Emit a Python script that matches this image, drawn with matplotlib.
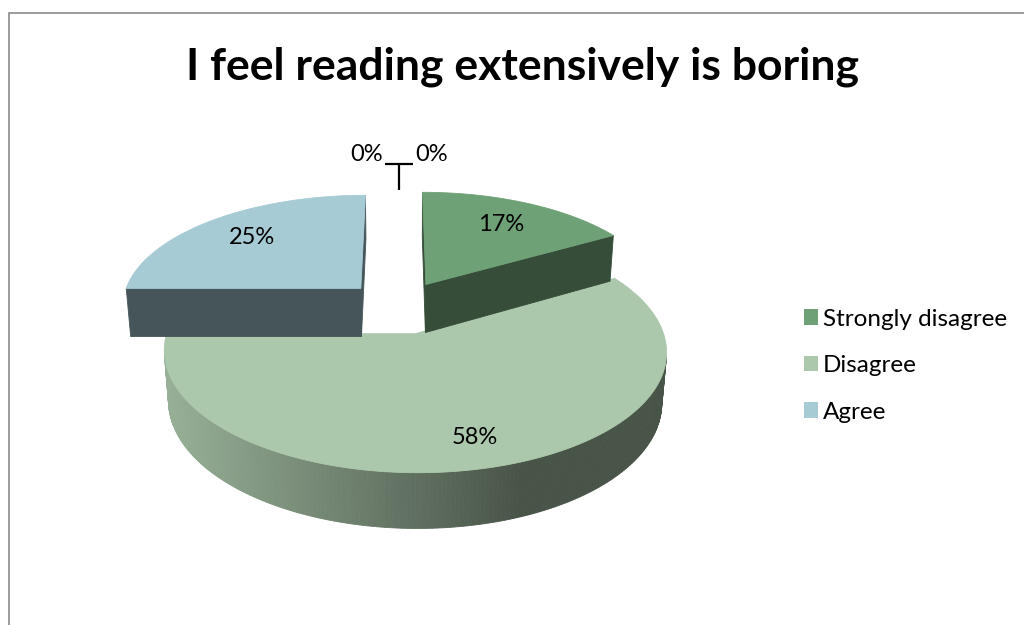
import numpy as np
import matplotlib
matplotlib.use("Agg")
import matplotlib.pyplot as plt
from matplotlib.patches import Polygon, Rectangle, Patch
from matplotlib.colors import to_rgb

title = "I feel reading extensively is boring"
categories = ["Strongly disagree", "Disagree", "Agree", "Strongly agree", "Undecided"]
counts = [2, 7, 3, 0, 0]

top_colors = ["#6fa176", "#acc8ac", "#a6cbd4", "#8fb7c4", "#7e9fb0"]
cut_shade = [0.48, 0.45, 0.42, 0.45, 0.45]
explode = [0.23, 0.25, 0.23, 0.23, 0.23]
label_r = [0.72, 0.8, 0.72, 1.0, 1.0]
draw_order = [1, 2, 0]

plt.rcParams["font.family"] = ["Lato", "DejaVu Sans"]

# simple perspective camera looking down on the pie
ELEV = np.radians(27.5)
DIST = 6.3
SCALE = 1512.0
CX, CY = 399.0, 306.0
THICK = 0.234
CAM = np.array([0.0, -DIST * np.cos(ELEV), DIST * np.sin(ELEV)])


def proj(x, y, z):
    x = np.asarray(x, float)
    y = np.asarray(y, float)
    z = np.asarray(z, float)
    depth = DIST + y * np.cos(ELEV) - z * np.sin(ELEV)
    up = y * np.sin(ELEV) + z * np.cos(ELEV)
    return CX + SCALE * x / depth, CY - SCALE * up / depth


def shade(col, f):
    return tuple(min(1, c * f) for c in to_rgb(col))


def mix(c1, c2, t):
    return tuple(a + (b - a) * t for a, b in zip(c1, c2))


def visible(normal, point):
    return np.dot(normal, CAM - point) > 0


fig = plt.figure(figsize=(10.24, 6.25), dpi=100)
ax = fig.add_axes([0, 0, 1, 1])
ax.set_xlim(0, 1024)
ax.set_ylim(625, 0)
ax.axis("off")

total = sum(counts)
fracs = [c / total for c in counts]
starts = np.cumsum([0] + fracs[:-1]) * 2 * np.pi
ends = starts + np.array(fracs) * 2 * np.pi

centers = []
for i in range(len(counts)):
    bis = (starts[i] + ends[i]) / 2
    centers.append((explode[i] * np.sin(bis), explode[i] * np.cos(bis)))

for i in draw_order:
    t1, t2 = starts[i], ends[i]
    ox, oy = centers[i]
    col = top_colors[i]
    th = np.linspace(t1, t2, 240)
    rx = ox + np.sin(th)
    ry = oy + np.cos(th)

    # outer wall
    light = shade(col, 0.88)
    dark = shade(col, 0.42)
    for k in range(len(th) - 1):
        tm = (th[k] + th[k + 1]) / 2
        n = np.array([np.sin(tm), np.cos(tm), 0])
        p = np.array([ox + np.sin(tm), oy + np.cos(tm), -THICK / 2])
        if not visible(n, p):
            continue
        xs, ys = proj([rx[k], rx[k + 1], rx[k + 1], rx[k]],
                      [ry[k], ry[k + 1], ry[k + 1], ry[k]],
                      [0, 0, -THICK, -THICK])
        tt = np.clip((xs.mean() - 165) / (520 - 165), 0, 1)
        c = mix(light, dark, tt)
        ax.add_patch(Polygon(np.c_[xs, ys], closed=True, facecolor=c,
                             edgecolor=c, linewidth=0.6))

    # cut faces
    for ang, side in ((t1, -1), (t2, 1)):
        na = ang + side * np.pi / 2
        n = np.array([np.sin(na), np.cos(na), 0])
        ex, ey = ox + np.sin(ang), oy + np.cos(ang)
        p = np.array([(ox + ex) / 2, (oy + ey) / 2, -THICK / 2])
        if not visible(n, p):
            continue
        xs, ys = proj([ox, ex, ex, ox], [oy, ey, ey, oy],
                      [0, 0, -THICK, -THICK])
        c = shade(col, cut_shade[i])
        ax.add_patch(Polygon(np.c_[xs, ys], closed=True, facecolor=c,
                             edgecolor=c, linewidth=0.6))

    # top face
    xs, ys = proj(np.r_[ox, rx], np.r_[oy, ry], np.zeros(len(rx) + 1))
    ax.add_patch(Polygon(np.c_[xs, ys], closed=True, facecolor=col,
                         edgecolor=col, linewidth=0.6))

# data labels
for i in range(len(counts)):
    pct = f"{round(fracs[i] * 100)}%"
    ox, oy = centers[i]
    bis = (starts[i] + ends[i]) / 2
    if counts[i] > 0:
        lx, ly = proj(ox + label_r[i] * np.sin(bis), oy + label_r[i] * np.cos(bis), 0)
        ax.text(lx, ly, pct, ha="center", va="center", fontsize=17, color="black")

zero = [i for i in range(len(counts)) if counts[i] == 0]
if zero:
    ox, oy = centers[zero[0]]
    ax_x, ax_y = proj(ox, oy + 1, 0)
    top_y = ax_y - 26
    ax.plot([ax_x, ax_x], [ax_y, top_y], color="black", lw=1.6, solid_capstyle="butt")
    ax.plot([ax_x - 14, ax_x + 14], [top_y, top_y], color="black", lw=1.6,
            solid_capstyle="butt")
    for i, side in zip(zero, (-1, 1)):
        pct = f"{round(fracs[i] * 100)}%"
        ax.text(ax_x + side * 16, top_y - 9, pct, ha="right" if side < 0 else "left",
                va="center", fontsize=17, color="black")

ax.text(522, 67, title, ha="center", va="center", fontsize=32, fontweight="bold",
        color="black")

handles = [Patch(facecolor=top_colors[i], edgecolor="none", label=categories[i])
           for i in range(len(counts)) if counts[i] > 0]
ax.legend(handles=handles, loc="upper left", bbox_to_anchor=(794 / 1024, 1 - 299 / 625),
          bbox_transform=fig.transFigure, frameon=False, fontsize=17.5,
          handlelength=0.6, handleheight=0.6, handletextpad=0.2, labelspacing=1.05,
          borderaxespad=0)

fig.add_artist(Rectangle((8.5 / 1024, -0.1), 2, 1.1 - 12.5 / 625,
                         transform=fig.transFigure, fill=False,
                         edgecolor="#8a8a8a", linewidth=1.2))

fig.savefig("out.png", dpi=100)
